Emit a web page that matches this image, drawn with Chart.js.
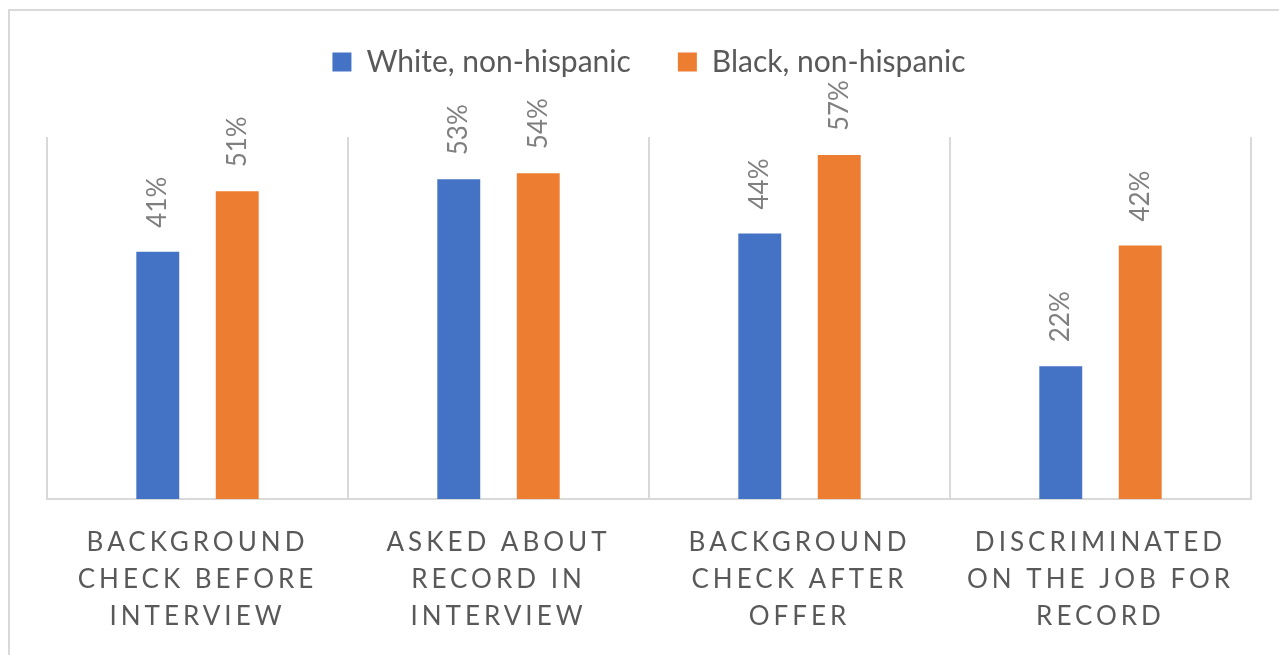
<!doctype html>
<html>
<head>
	<meta charset="utf-8">
	<title>Background checks by race</title>
	<script src="https://cdn.jsdelivr.net/npm/chart.js@4.4.1/dist/chart.umd.min.js"></script>
	<style>
		body {
			margin: 0;
			background: #FFF;
			overflow: hidden;
		}
		.chart-box {
			position: relative;
			width: 1279px;
			height: 655px;
		}
	</style>
</head>

<body>
	<div class="chart-box">
		<canvas id="RecordChart"></canvas>
	</div>
	<script>
		var categories = [
			["BACKGROUND", "CHECK BEFORE", "INTERVIEW"],
			["ASKED ABOUT", "RECORD IN", "INTERVIEW"],
			["BACKGROUND", "CHECK AFTER", "OFFER"],
			["DISCRIMINATED", "ON THE JOB FOR", "RECORD"]
		];
		var whiteValues = [41, 53, 44, 22];
		var blackValues = [51, 54, 57, 42];
		var seriesNames = ["White, non-hispanic", "Black, non-hispanic"];

		var fontName = "Lato, 'Open Sans', sans-serif";
		var lineGray = "#D9D9D9";

		// outer frame like the excel chart area
		var framePlugin = {
			id: "frame",
			beforeLayout: function (chart) {
				// extra room between legend and plot
				var lg = chart.legend;
				if (lg && !lg._padded) {
					var origFit = lg.fit;
					lg.fit = function () {
						origFit.call(this);
						this.height += 50;
					};
					lg._padded = true;
				}
			},
			beforeDraw: function (chart) {
				var ctx = chart.ctx;
				ctx.save();
				ctx.strokeStyle = lineGray;
				ctx.lineWidth = 2;
				ctx.strokeRect(9, 10, 1300, 700);
				ctx.restore();

				// spaced out capitals on the category axis
				var xs = chart.scales.x;
				if (xs && !xs._spaced) {
					var orig = xs.drawLabels;
					xs.drawLabels = function (area) {
						this.ctx.save();
						this.ctx.letterSpacing = "4px";
						orig.call(this, area);
						this.ctx.restore();
					};
					xs._spaced = true;
				}
			}
		};

		// rotated value labels above each bar
		var valueLabels = {
			id: "valueLabels",
			afterDatasetsDraw: function (chart) {
				var ctx = chart.ctx;
				ctx.save();
				ctx.font = "26px " + fontName;
				ctx.fillStyle = "#7F7F7F";
				ctx.textAlign = "left";
				ctx.textBaseline = "middle";
				chart.data.datasets.forEach(function (ds, i) {
					chart.getDatasetMeta(i).data.forEach(function (bar, j) {
						ctx.save();
						ctx.translate(bar.x, bar.y - 24);
						ctx.rotate(-Math.PI / 2);
						ctx.fillText(ds.data[j] + "%", 0, 0);
						ctx.restore();
					});
				});
				ctx.restore();
			}
		};

		new Chart("RecordChart", {
			type: "bar",
			data: {
				labels: categories,
				datasets: [
					{
						label: seriesNames[0],
						data: whiteValues,
						backgroundColor: "#4472C4",
						categoryPercentage: 0.528,
						barPercentage: 0.54
					},
					{
						label: seriesNames[1],
						data: blackValues,
						backgroundColor: "#ED7D31",
						categoryPercentage: 0.528,
						barPercentage: 0.54
					}
				]
			},
			options: {
				responsive: true,
				maintainAspectRatio: false,
				animation: false,
				layout: {
					padding: {
						top: 0,
						left: 47,
						right: 28,
						bottom: 0
					}
				},
				plugins: {
					legend: {
						display: true,
						position: "top",
						labels: {
							boxWidth: 19,
							boxHeight: 19,
							padding: 47,
							color: "#595959",
							font: { family: fontName, size: 30 }
						}
					},
					tooltip: { enabled: false }
				},
				scales: {
					y: {
						display: false,
						min: 0,
						max: 60
					},
					x: {
						afterFit: function (scale) {
							scale.height = 156;
						},
						grid: {
							display: true,
							offset: true,
							drawTicks: false,
							color: lineGray,
							lineWidth: 2
						},
						border: {
							display: true,
							color: lineGray,
							width: 2
						},
						ticks: {
							padding: 25,
							color: "#595959",
							maxRotation: 0,
							autoSkip: false,
							font: { family: fontName, size: 26, lineHeight: 1.42 }
						}
					}
				}
			},
			plugins: [framePlugin, valueLabels]
		});
	</script>
</body>
</html>
